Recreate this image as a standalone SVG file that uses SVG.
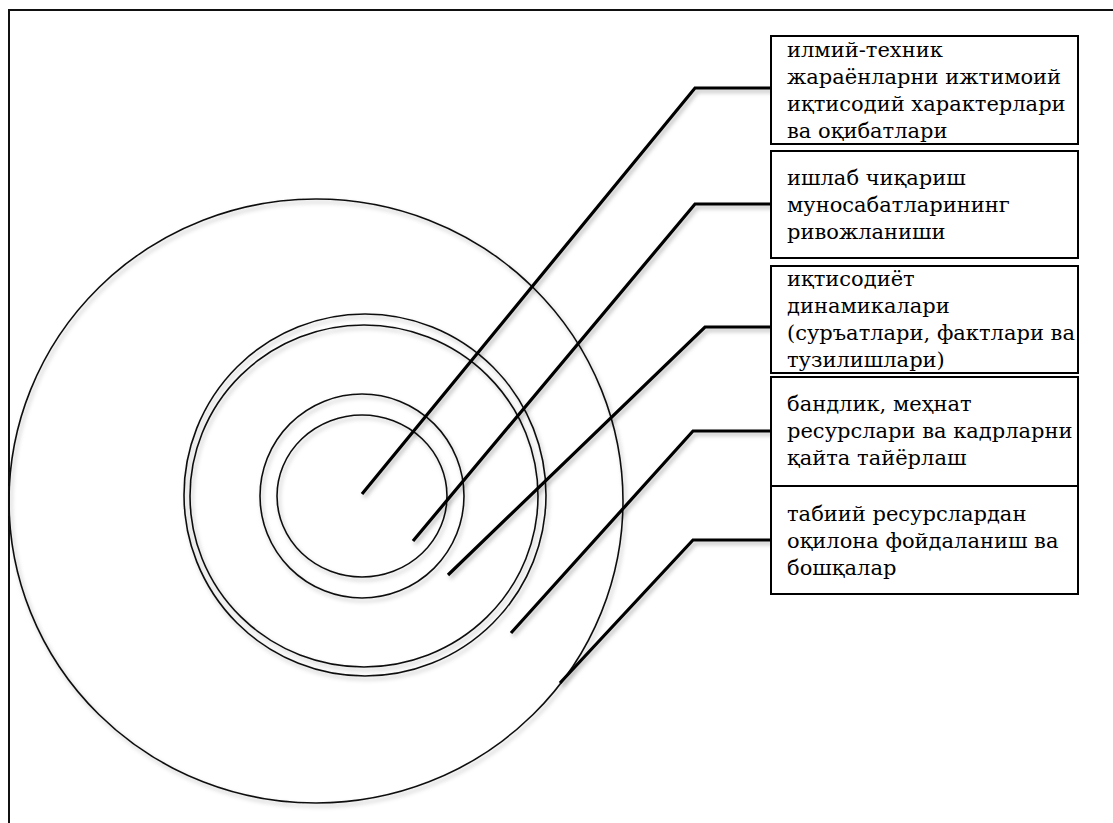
<svg xmlns="http://www.w3.org/2000/svg" width="1113" height="823" viewBox="0 0 1113 823">
  <defs>
    <filter id="shade" x="-10%" y="-10%" width="130%" height="130%">
      <feDropShadow dx="2" dy="3" stdDeviation="2" flood-color="#000" flood-opacity="0.28"/>
    </filter>
  </defs>
  <style>
    .ring { fill: none; stroke: #111; stroke-width: 1.6; }
    .lead { fill: none; stroke: #000; stroke-width: 3.2; stroke-linejoin: miter; }
    .box { fill: #fff; stroke: #000; stroke-width: 2; }
    .frame { fill: none; stroke: #111; stroke-width: 2; }
  </style>
  <rect width="1113" height="823" fill="#fff"/>
  <path class="frame" d="M9 823 V10 H1113"/>

  <!-- concentric rings -->
  <g id="rings" filter="url(#shade)">
    <ellipse id="ring-outer" class="ring" cx="316" cy="501" rx="307" ry="302"/>
    <circle id="ring-double-a" class="ring" cx="365" cy="495" r="181"/>
    <ellipse id="ring-double-b" class="ring" cx="364" cy="496" rx="174" ry="171"/>
    <circle id="ring-mid" class="ring" cx="362" cy="496" r="102"/>
    <ellipse id="ring-core" class="ring" cx="362" cy="496" rx="85" ry="81"/>
  </g>

  <!-- leader lines -->
  <g id="connectors" filter="url(#shade)">
    <polyline class="lead" points="362,494 695,88 772,88"/>
    <polyline class="lead" points="413,541 695,204 772,204"/>
    <polyline class="lead" points="448,575 705,327 776,327"/>
    <polyline class="lead" points="511,633 693,431 772,431"/>
    <polyline class="lead" points="560,683 693,540 772,540"/>
  </g>

  <g id="labels" font-family="DejaVu Serif, serif" font-size="21" fill="#000">
    <g id="box1">
      <rect class="box" x="771" y="36" width="307" height="108"/>
      <text x="787" y="57">илмий-техник</text>
      <text x="787" y="84">жараёнларни ижтимоий</text>
      <text x="787" y="111">иқтисодий характерлари</text>
      <text x="787" y="138">ва оқибатлари</text>
    </g>
    <g id="box2">
      <rect class="box" x="771" y="151" width="307" height="107"/>
      <text x="787" y="185">ишлаб чиқариш</text>
      <text x="787" y="212">муносабатларининг</text>
      <text x="787" y="239">ривожланиши</text>
    </g>
    <g id="box3">
      <rect class="box" x="771" y="266" width="307" height="107"/>
      <text x="787" y="286">иқтисодиёт</text>
      <text x="787" y="313">динамикалари</text>
      <text x="787" y="340">(суръатлари, фактлари ва</text>
      <text x="787" y="367">тузилишлари)</text>
    </g>
    <g id="box4">
      <rect class="box" x="771" y="377" width="307" height="109"/>
      <text x="787" y="411">бандлик, меҳнат</text>
      <text x="787" y="438">ресурслари ва кадрларни</text>
      <text x="787" y="465">қайта тайёрлаш</text>
    </g>
    <g id="box5">
      <rect class="box" x="771" y="486" width="307" height="108"/>
      <text x="787" y="521">табиий ресурслардан</text>
      <text x="787" y="548">оқилона фойдаланиш ва</text>
      <text x="787" y="575">бошқалар</text>
    </g>
  </g>
</svg>
